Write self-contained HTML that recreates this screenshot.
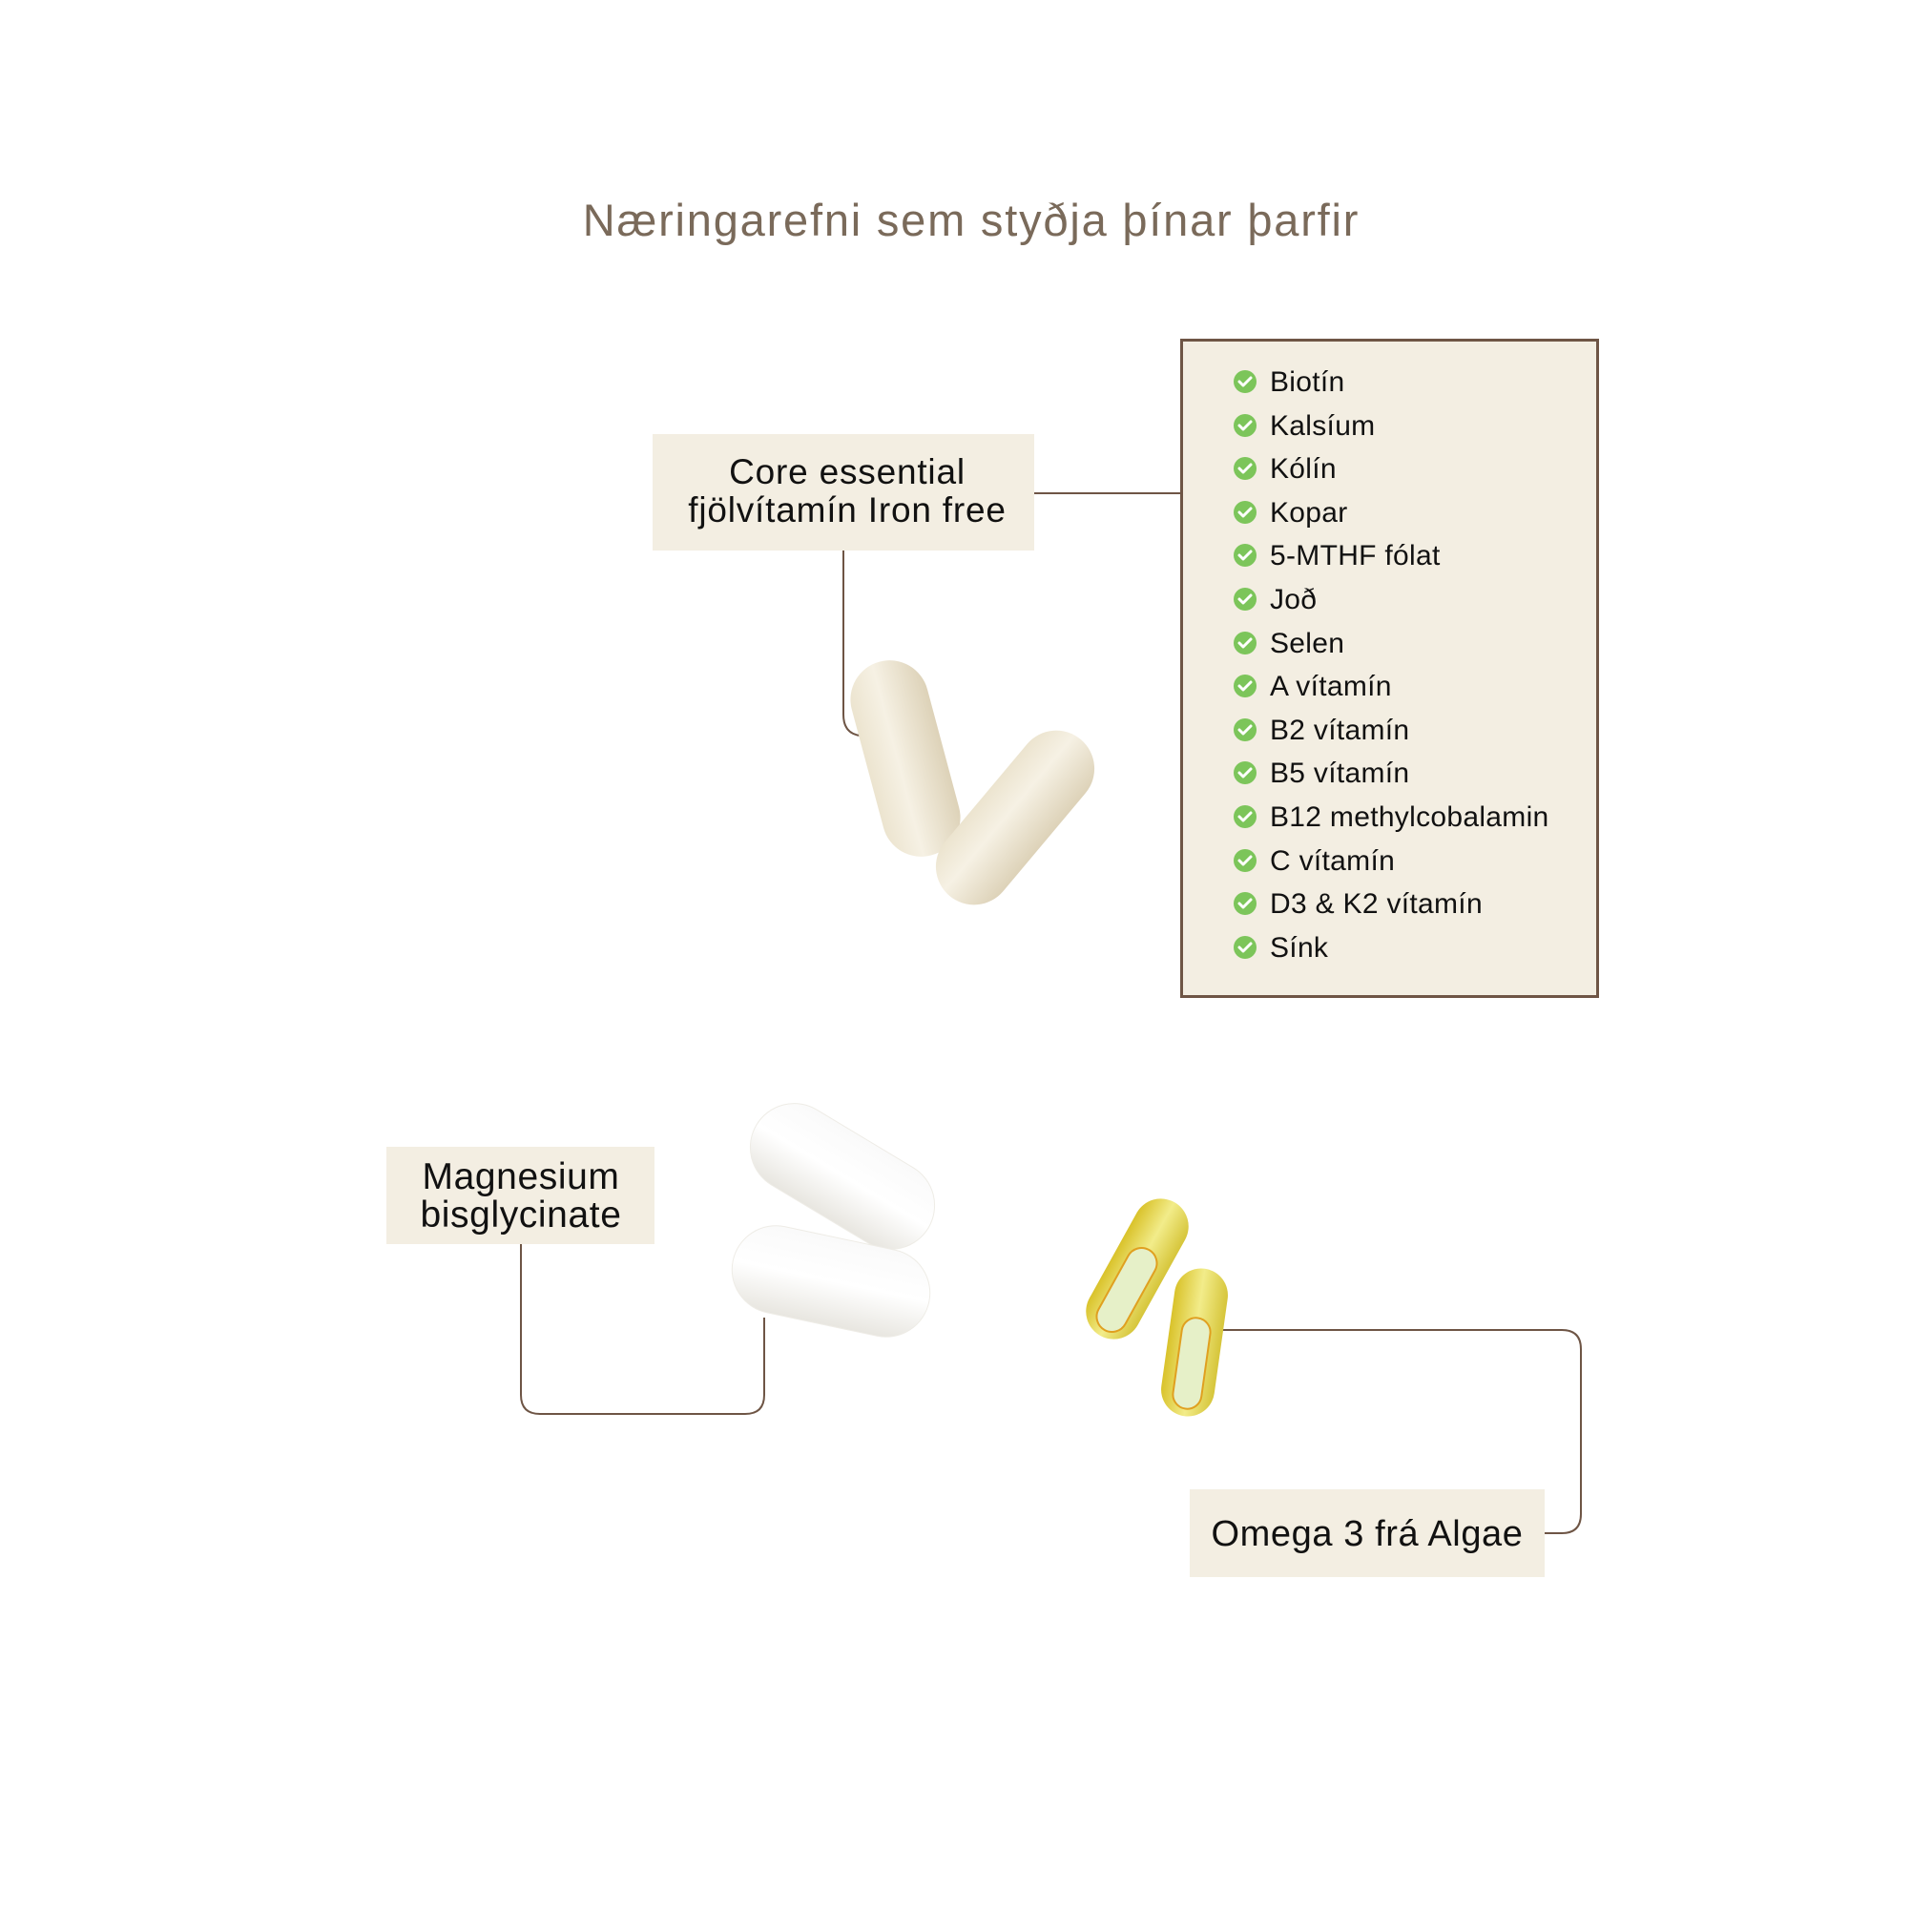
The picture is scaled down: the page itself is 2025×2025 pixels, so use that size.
<!DOCTYPE html>
<html><head><meta charset="utf-8"><style>
html,body{margin:0;padding:0;background:#fff;}
svg{display:block}
text{font-family:"Liberation Sans",sans-serif;}
</style></head><body>
<svg width="2025" height="2025" viewBox="0 0 2025 2025" xmlns="http://www.w3.org/2000/svg">
<defs>
<linearGradient id="cap" x1="0" x2="1"><stop offset="0" stop-color="#ece4cf"/><stop offset=".4" stop-color="#f6f1e4"/><stop offset="1" stop-color="#ddd2b8"/></linearGradient>
<linearGradient id="wh" x1="0" x2="0" y1="0" y2="1"><stop offset="0" stop-color="#fafafa"/><stop offset=".5" stop-color="#ffffff"/><stop offset="1" stop-color="#e8e6e0"/></linearGradient>
<linearGradient id="gel" x1="0" x2="1"><stop offset="0" stop-color="#d9c22a"/><stop offset=".5" stop-color="#f2ec8a"/><stop offset="1" stop-color="#d6c53a"/></linearGradient>
</defs>
<text x="1018" y="247" text-anchor="middle" font-size="47" letter-spacing="1.8" fill="#7a6a5a">Næringarefni sem styðja þínar þarfir</text>

<g transform="translate(-6,-3)">
<!-- connectors -->
<g fill="none" stroke="#6e5545" stroke-width="2">
<path d="M1090 520 H1243"/>
<path d="M890 580 V752 Q890 772 908 774"/>
<path d="M552 1307 V1465 Q552 1485 572 1485 H787 Q807 1485 807 1465 V1384"/>
<path d="M1279 1397 H1643 Q1663 1397 1663 1417 V1590 Q1663 1610 1643 1610 H1625"/>
</g>

<!-- core box -->
<rect x="690" y="458" width="400" height="122" fill="#f3eee2"/>
<text x="894" y="510" text-anchor="middle" font-size="37" letter-spacing="0.8" fill="#111">Core essential</text>
<text x="894" y="550" text-anchor="middle" font-size="37" letter-spacing="0.8" fill="#111">fjölvítamín Iron free</text>

<!-- list box -->
<rect x="1244.5" y="359.5" width="436" height="688" fill="#f3eee2" stroke="#6e5545" stroke-width="3"/>
<g fill="#7cc55a">
<circle cx="1311" cy="403" r="12"/><circle cx="1311" cy="449" r="12"/><circle cx="1311" cy="494" r="12"/><circle cx="1311" cy="540" r="12"/><circle cx="1311" cy="585" r="12"/><circle cx="1311" cy="631" r="12"/><circle cx="1311" cy="677" r="12"/><circle cx="1311" cy="722" r="12"/><circle cx="1311" cy="768" r="12"/><circle cx="1311" cy="813" r="12"/><circle cx="1311" cy="859" r="12"/><circle cx="1311" cy="905" r="12"/><circle cx="1311" cy="950" r="12"/><circle cx="1311" cy="996" r="12"/>
</g>
<g fill="none" stroke="#fff" stroke-width="3" stroke-linecap="round" stroke-linejoin="round">
<path d="M1305 403l4 4 8-8"/><path d="M1305 449l4 4 8-8"/><path d="M1305 494l4 4 8-8"/><path d="M1305 540l4 4 8-8"/><path d="M1305 585l4 4 8-8"/><path d="M1305 631l4 4 8-8"/><path d="M1305 677l4 4 8-8"/><path d="M1305 722l4 4 8-8"/><path d="M1305 768l4 4 8-8"/><path d="M1305 813l4 4 8-8"/><path d="M1305 859l4 4 8-8"/><path d="M1305 905l4 4 8-8"/><path d="M1305 950l4 4 8-8"/><path d="M1305 996l4 4 8-8"/>
</g>
<g font-size="30" letter-spacing="0.3" fill="#111">
<text x="1337" y="413">Biotín</text>
<text x="1337" y="459">Kalsíum</text>
<text x="1337" y="504">Kólín</text>
<text x="1337" y="550">Kopar</text>
<text x="1337" y="595">5-MTHF fólat</text>
<text x="1337" y="641">Joð</text>
<text x="1337" y="687">Selen</text>
<text x="1337" y="732">A vítamín</text>
<text x="1337" y="778">B2 vítamín</text>
<text x="1337" y="823">B5 vítamín</text>
<text x="1337" y="869">B12 methylcobalamin</text>
<text x="1337" y="915">C vítamín</text>
<text x="1337" y="960">D3 &amp; K2 vítamín</text>
<text x="1337" y="1006">Sínk</text>
</g>

<!-- core pills -->
<rect x="-41" y="-105" width="82" height="210" rx="41" fill="url(#cap)" transform="translate(955,798) rotate(-15)"/>
<rect x="-40" y="-107" width="80" height="214" rx="40" fill="url(#cap)" transform="translate(1070,860) rotate(40)"/>

<!-- magnesium box -->
<rect x="411" y="1205" width="281" height="102" fill="#f3eee2"/>
<text x="552" y="1249" text-anchor="middle" font-size="39" letter-spacing="0.6" fill="#111">Magnesium</text>
<text x="552" y="1289" text-anchor="middle" font-size="39" letter-spacing="0.6" fill="#111">bisglycinate</text>

<!-- white pills -->
<rect x="-105" y="-46" width="210" height="92" rx="46" fill="url(#wh)" stroke="#eeece6" transform="translate(889,1236) rotate(31)"/>
<rect x="-105" y="-46" width="210" height="92" rx="46" fill="url(#wh)" stroke="#eeece6" transform="translate(877,1346) rotate(12)"/>

<!-- omega gels -->
<rect x="-29" y="-80" width="58" height="160" rx="29" fill="url(#gel)" transform="translate(1198,1333) rotate(29)"/>
<rect x="-16" y="-48" width="32" height="96" rx="16" fill="#e6f0c8" stroke="#e0a020" stroke-width="2" transform="translate(1187,1355) rotate(29)"/>
<rect x="-28" y="-78" width="56" height="156" rx="28" fill="url(#gel)" transform="translate(1258,1410) rotate(8)"/>
<rect x="-15" y="-48" width="30" height="96" rx="15" fill="#e6f0c8" stroke="#e0a020" stroke-width="2" transform="translate(1255,1432) rotate(8)"/>

<!-- omega box -->
<rect x="1253" y="1564" width="372" height="92" fill="#f3eee2"/>
<text x="1439" y="1623" text-anchor="middle" font-size="38" letter-spacing="0.6" fill="#111">Omega 3 frá Algae</text>
</g>
</svg>
</body></html>
